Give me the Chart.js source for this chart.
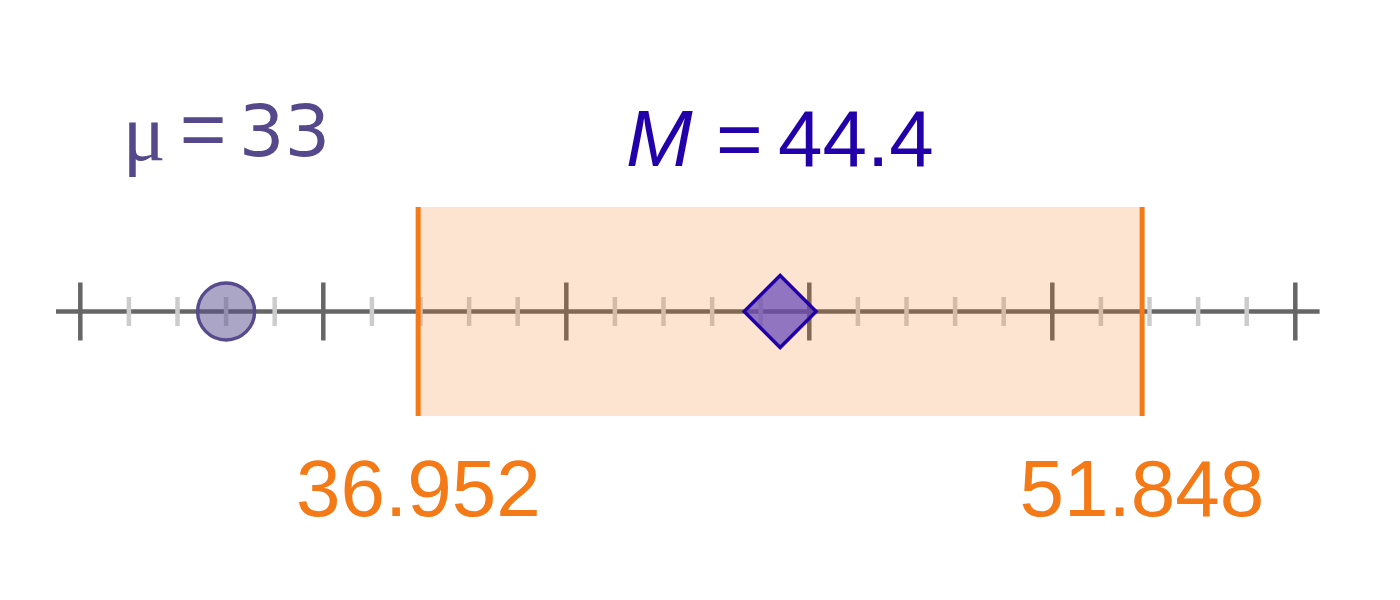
<!DOCTYPE html>
<html><head><meta charset="utf-8">
<script src="https://cdn.jsdelivr.net/npm/chart.js@4.4.0/dist/chart.umd.min.js"></script>
<style>html,body{margin:0;padding:0;background:#fff;overflow:hidden}#wrap{width:1400px;height:600px;position:relative}</style>
</head><body><div id="wrap"><canvas id="c"></canvas></div>
<script>
// ---- data ----
const populationMean = 33;          // μ
const sampleMean = 44.4;            // M
const intervalBounds = [36.952, 51.848];
const axisExtent = [29.5, 55.5];
const majorTicks = [30, 35, 40, 45, 50, 55];
const minorTicks = [31, 32, 33, 34, 36, 37, 38, 39, 41, 42, 43, 44, 46, 47, 48, 49, 51, 52, 53, 54];
const intervalLabels = ['36.952', '51.848'];
const muLabel = ['μ', '=', '33'];
const mLabel = ['M', '=', '44.4'];

// ---- styles ----
const AXIS = '#666666', MINOR = '#cccccc', ORANGE = '#f47a17';
const MU_COLOR = '#55498b', M_COLOR = '#2200aa';

const labelPlugin = {
  id: 'labels',
  afterDatasetsDraw(chart) {
    const { ctx, scales: { x, y } } = chart;
    const top = y.getPixelForValue(1), bottom = y.getPixelForValue(-1);
    // place segments by their ink boxes with given ink gaps, centred on cx
    function drawSegs(segs, fonts, dys, gaps, color, cx, base) {
      ctx.save();
      ctx.fillStyle = color;
      ctx.textBaseline = 'alphabetic';
      ctx.textAlign = 'left';
      const ms = segs.map((s, i) => { ctx.font = fonts[i]; return ctx.measureText(s); });
      const inks = ms.map(m => m.actualBoundingBoxLeft + m.actualBoundingBoxRight);
      const total = inks.reduce((a, b) => a + b, 0) + gaps.reduce((a, b) => a + b, 0);
      let left = cx - total / 2;
      segs.forEach((s, i) => {
        ctx.font = fonts[i];
        ctx.fillText(s, left + ms[i].actualBoundingBoxLeft, base + (dys[i] || 0));
        left += inks[i] + (gaps[i] || 0);
      });
      ctx.restore();
    }
    drawSegs(muLabel, ['80px "Liberation Serif", serif', '80px "Liberation Sans"', '72px "DejaVu Sans"'],
      [4, 0, 0], [20, 21], MU_COLOR, x.getPixelForValue(populationMean) + 1, top - 51);
    drawSegs(mLabel, ['italic 80px "Liberation Sans"', '80px "Liberation Sans"', '80px "Liberation Sans"'],
      [0, 0, 0], [26, 20], M_COLOR, x.getPixelForValue(sampleMean), top - 41);
    intervalBounds.forEach((v, i) => {
      drawSegs([intervalLabels[i]], ['80px "Liberation Sans"'], [0], [], ORANGE, x.getPixelForValue(v), bottom + 100);
    });
  }
};

const pt = v => ({ x: v, y: 0 });

new Chart(document.getElementById('c'), {
  type: 'scatter',
  data: {
    datasets: [
      { // sample mean diamond
        data: [pt(sampleMean)], order: 1,
        pointStyle: 'rectRot', pointRadius: 36, pointBorderWidth: 3.4,
        pointBackgroundColor: 'rgba(100,70,185,0.7)', pointBorderColor: '#2000a8'
      },
      { // population mean circle
        data: [pt(populationMean)], order: 2,
        pointStyle: 'circle', pointRadius: 28.5, pointBorderWidth: 3.4,
        pointBackgroundColor: 'rgba(87,75,141,0.5)', pointBorderColor: '#574b8d'
      },
      { // interval edges
        data: intervalBounds.map(pt), order: 3,
        pointStyle: 'line', pointRotation: 90, pointRadius: 104.5, pointBorderWidth: 5,
        pointBorderColor: ORANGE
      },
      { // interval band
        data: intervalBounds.map(v => ({ x: v, y: 1 })), order: 4, showLine: true,
        borderWidth: 0, borderColor: 'rgba(0,0,0,0)', pointRadius: 0,
        fill: { value: -1 }, backgroundColor: 'rgba(244,122,23,0.2)'
      },
      { // major ticks
        data: majorTicks.map(pt), order: 5,
        pointStyle: 'line', pointRotation: 90, pointRadius: 29, pointBorderWidth: 4.5,
        pointBorderColor: AXIS
      },
      { // minor ticks
        data: minorTicks.map(pt), order: 6,
        pointStyle: 'line', pointRotation: 90, pointRadius: 14.5, pointBorderWidth: 4.5,
        pointBorderColor: MINOR
      },
      { // axis line
        data: axisExtent.map(pt), order: 7, showLine: true,
        borderColor: AXIS, borderWidth: 4.3, pointRadius: 0
      }
    ]
  },
  options: {
    responsive: true, maintainAspectRatio: false, animation: false, events: [],
    layout: { padding: 0, autoPadding: false },
    plugins: { legend: { display: false }, tooltip: { enabled: false }, filler: { propagate: false } },
    scales: {
      x: { type: 'linear', display: false, min: 30 - 80.3 / 48.6, max: 30 - 80.3 / 48.6 + 1400 / 48.6 },
      y: { type: 'linear', display: false, min: -1 - 184 / 104.5, max: 1 + 207 / 104.5 }
    }
  },
  plugins: [labelPlugin]
});
</script>
</body></html>
